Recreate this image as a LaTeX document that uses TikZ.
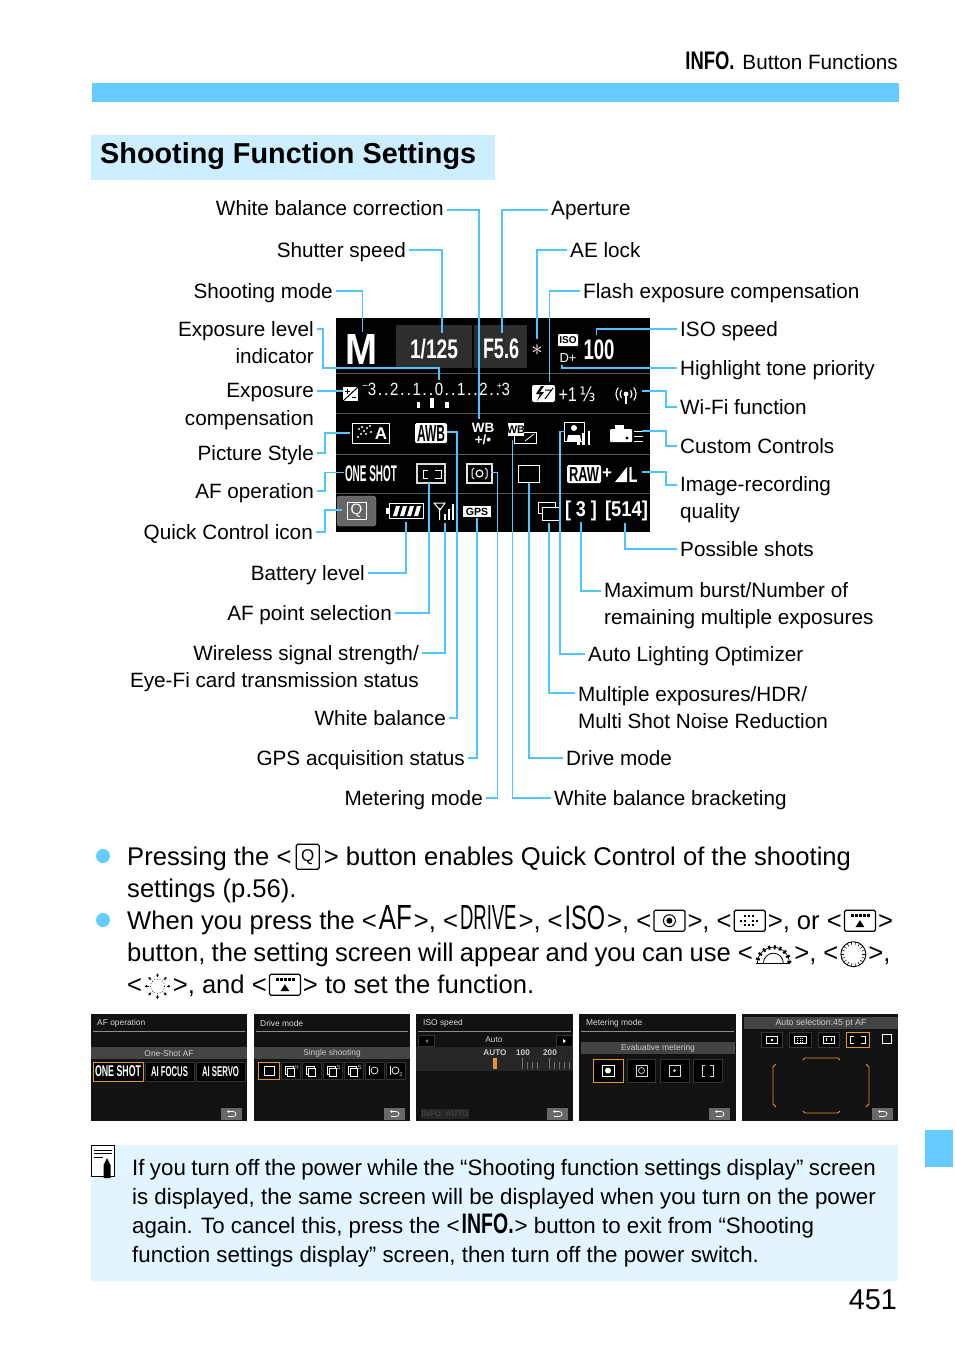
\documentclass[tikz,border=0pt]{standalone}
\usepackage{graphicx}
\usepackage{fontspec}
\setmainfont{Liberation Sans}
\newfontfamily\symfont{DejaVu Sans}
\usetikzlibrary{arrows.meta,positioning,calc}

\definecolor{barcyan}{HTML}{66CCFF}
\definecolor{leadcyan}{HTML}{4FC4FF}
\definecolor{titlefill}{HTML}{CCEEFF}
\definecolor{notefill}{HTML}{E1F4FF}
\definecolor{scrbg}{HTML}{121212}
\definecolor{scrband}{HTML}{444444}
\definecolor{scredge}{HTML}{333333}
\definecolor{scrorange}{HTML}{E2962C}

\newcommand{\lblfont}{\fontsize{20.7}{27.6}\selectfont}
\newcommand{\bodyfont}{\fontsize{25.6}{32}\selectfont}
\newcommand{\notefont}{\fontsize{22.3}{29}\selectfont}
\newcommand{\lcdfit}[3]{\resizebox*{#1}{#2}{#3}}
\newcommand{\angled}[1]{<\hspace{2pt}#1\hspace{2pt}>}
\newcommand{\sdig}[1]{\makebox[10pt]{\scalebox{.85}[1]{#1}}}
\newcommand{\sdot}{\makebox[12.3pt]{.\hspace{1.5pt}.}}

% keys and dials that stand in the running text
\newcommand{\keyQ}{\tikz[x=1pt,y=1pt,baseline=0pt]{\draw[line width=1.2pt,rounded corners=1.5pt] (0,-4) rectangle (23,21); \node[anchor=center,inner sep=0pt] (keyQtxt) at (11.5,8.5) {\fontsize{17}{17}\selectfont Q};}}
\newcommand{\keyMeter}{\tikz[x=1pt,y=1pt,baseline=0pt]{\draw[line width=1.2pt,rounded corners=1.5pt] (0,-2) rectangle (31,19); \draw[line width=1pt] (15.5,8.5) circle[radius=6pt]; \fill (15.5,8.5) circle[radius=3pt];}}
\newcommand{\keyPoint}{\tikz[x=1pt,y=1pt,baseline=0pt]{\draw[line width=1.2pt,rounded corners=1.5pt] (0,-2) rectangle (31,19); \foreach \px/\py in {11/13,15/13,19/13,7/8.5,11/8.5,19/8.5,23/8.5,11/4,15/4,19/4}{\fill (\px-1.2,\py-1.2) rectangle (\px+1.2,\py+1.2);}}}
\newcommand{\keyMulti}{\tikz[x=1pt,y=1pt,baseline=0pt]{\draw[line width=1.2pt,rounded corners=1.5pt] (0,-2) rectangle (31,19); \foreach \px in {8,12,16,20,24}{\fill (\px-1.2,12) rectangle (\px+1.2,15);} \fill (11,2) -- (20,2) -- (15.5,9) -- cycle;}}
\newcommand{\dialMain}{\tikz[x=1pt,y=1pt,baseline=0pt]{\draw[line width=.8pt] (3,-2) -- (37,-2); \draw[line width=.8pt] (10,-2) arc (180:0:10pt); \foreach \a in {5,25,...,175}{\draw[line width=2pt] (20,-2)++(\a:14pt) -- ++(\a:4pt);} \draw[line width=.7pt] (4,-2) arc (180:0:16pt);}}
\newcommand{\dialQuick}{\tikz[x=1pt,y=1pt,baseline=0pt]{\draw[line width=.9pt] (13,7) circle[radius=12.5pt]; \foreach \a in {0,20,...,340}{\draw[line width=.5pt] (13,7)++(\a:9pt) -- ++(\a:3.5pt);}}}
\newcommand{\dialCross}{\tikz[x=1pt,y=1pt,baseline=0pt]{\draw[line width=.7pt,dotted] (12,7) circle[radius=7pt]; \foreach \a in {0,45,...,315}{\draw[line width=.7pt,-{Latex[length=2.5pt,width=3pt]}] (12,7)++(\a:9pt) -- ++(\a:4pt);}}}

\tikzset{
  backbtn/.pic={
    \fill[scrband!80!white] (0,0) rectangle (21,12);
    \draw[white,line width=.7pt,-{Latex[length=2pt,width=3pt]}] (7,8.5) -- (12,8.5) .. controls (16,8.5) and (16,3.5) .. (12,3.5) -- (6,3.5);
  }
}

\begin{document}
\begin{tikzpicture}[
    x=1pt, y=-1pt,
    lblL/.style={anchor=east, font=\lblfont, inner xsep=3pt, inner ysep=0pt, text height=17pt, text depth=3pt},
    lblR/.style={anchor=west, font=\lblfont, inner xsep=3pt, inner ysep=0pt, text height=17pt, text depth=3pt},
    lblLm/.style={anchor=north east, font=\lblfont, align=right, inner xsep=3pt, inner ysep=0pt},
    lblRm/.style={anchor=north west, font=\lblfont, align=left, inner xsep=3pt, inner ysep=0pt},
    leader/.style={draw=leadcyan, line width=1.5pt},
    lcdtxt/.style={text=white, inner sep=0pt},
    lcdline/.style={draw=white, line width=1pt},
    sepline/.style={draw=black!65, line width=.8pt},
    scrtitle/.style={anchor=west, inner sep=0pt, text=black!15, font=\fontsize{8.4}{9}\selectfont},
    scrtxt/.style={inner sep=0pt, text=black!20, font=\fontsize{8.4}{9}\selectfont},
    scrbox/.style={draw=scredge, line width=.8pt, fill=black},
    scrpick/.style={draw=scrorange, line width=1pt, fill=black},
    bandbar/.style={fill=scrband}
]
\useasboundingbox (0,0) rectangle (954,1345);
\fill[white] (0,0) rectangle (954,1345);

% page furniture
\node[anchor=base east, inner sep=0pt, font=\lblfont] (pageHead) at (898,69) {\lcdfit{49pt}{18pt}{\bfseries INFO.}\hspace{8pt}Button Functions};
\fill[barcyan] (92,83) rectangle (899,102);
\fill[barcyan] (925,1130) rectangle (953,1167);
\fill[titlefill] (91,135) rectangle (495,180);
\node[anchor=base west, inner sep=0pt, font=\fontsize{28.8}{30}\selectfont\bfseries] (pageTitle) at (100,163) {Shooting Function Settings};
\node[anchor=base east, inner sep=0pt, font=\fontsize{28.8}{30}\selectfont] (pageNum) at (897,1309) {451};

% lcd panel
\fill[black] (336,318) rectangle (650,532);
\fill[black!82] (396,325) rectangle (472,368);
\fill[black!82] (474,325) rectangle (527,368);
\foreach \sy in {373,413,454,493}{\draw[sepline] (336,\sy) -- (650,\sy);}

% row 1
\node[lcdtxt] (lcdM) at (362,349) {\lcdfit{32pt}{30pt}{\bfseries M}};
\node[lcdtxt] (lcdTv) at (434,349) {\lcdfit{48pt}{20pt}{\bfseries 1/125}};
\node[lcdtxt] (lcdAv) at (501,349) {\lcdfit{36pt}{20pt}{\bfseries F5.6}};
\node[lcdtxt] (lcdAe) at (537,350) {\scalebox{2.3}{$\ast$}};
\node[fill=white, rounded corners=1pt, inner sep=0pt, minimum width=20pt, minimum height=12pt, font=\fontsize{10}{10}\selectfont\bfseries] (lcdIsoTag) at (568,340) {ISO};
\node[lcdtxt, font=\fontsize{13}{13}\selectfont] (lcdDplus) at (568,358) {D+};
\node[lcdtxt] (lcdIso) at (599,350) {\lcdfit{31pt}{20pt}{\bfseries 100}};

% row 2
\fill[white] (343,387) rectangle (358,401);
\draw[black, line width=1pt] (358,387) -- (343,401);
\draw[black, line width=1pt] (345,391) -- (350,391) (347.5,388.5) -- (347.5,393.5) (352,397) -- (356,397);
\node[lcdtxt, font=\fontsize{17.7}{18}\selectfont] (lcdScale) at (439,389) {\sdig{\llap{\raisebox{5.5pt}{\fontsize{11}{11}\selectfont −}}3}\sdot\sdig{2}\sdot\sdig{1}\sdot\sdig{0}\sdot\sdig{1}\sdot\sdig{2}\sdot\sdig{\llap{\raisebox{6pt}{\fontsize{10}{10}\selectfont +}}3}};
\fill[white] (416.5,402) rectangle (420,408);
\fill[white] (430,398) rectangle (433.5,408);
\fill[white] (445,402) rectangle (448.5,408);
\fill[white, rounded corners=2pt] (532,385) rectangle (555,402);
\fill[black] (541,386) -- (536,394) -- (540,394) -- (537,401) -- (544,392) -- (540,392) -- (544,386) -- cycle;
\draw[black, line width=1pt] (553,388) -- (545,399) (545,390) -- (551,390);
\node[lcdtxt] (lcdFlash) at (577,394) {\lcdfit{37pt}{15pt}{+1\,{\symfont ⅓}}};
\fill[white] (626,394) circle[radius=2.4pt];
\draw[white, line width=1.2pt] (626,394) -- (626,404);
\foreach \rr in {6,10}{
  \draw[white, line width=1.1pt] (626,394)++(140:\rr pt) arc (140:220:\rr pt);
  \draw[white, line width=1.1pt] (626,394)++(40:\rr pt) arc (40:-40:\rr pt);
}

% row 3
\draw[lcdline] (352,423) rectangle (389,443);
\node[lcdtxt, font=\fontsize{17}{17}\selectfont\bfseries] (lcdStyleA) at (381,433.5) {A};
\foreach \dx/\dy in {358/437,361/434,364/431,367/428,370/426,362/427,359/429,366/434,371/432}{\fill[white] (\dx,\dy) circle[radius=1.1pt];}
\node[fill=white, rounded corners=1.5pt, inner sep=0pt, minimum width=32pt, minimum height=20pt] (lcdAwb) at (431,433) {\lcdfit{28pt}{16pt}{\bfseries AWB}};
\node[lcdtxt, font=\fontsize{13.5}{14}\selectfont\bfseries] (lcdWbCorr) at (483,428) {WB};
\node[lcdtxt, font=\fontsize{13.5}{14}\selectfont\bfseries] (lcdWbPm) at (483,440) {+/\textbullet};
\draw[lcdline] (514,432) rectangle (536,443);
\draw[white, line width=.8pt] (525,441) -- (534,434);
\fill[white] (508,423) rectangle (524,436);
\node[inner sep=0pt, font=\fontsize{11}{11}\selectfont\bfseries] (lcdWbBkt) at (516,429.5) {WB};
\draw[lcdline] (564,422) rectangle (584,441);
\fill[white] (574,428) circle[radius=3pt];
\fill[white] (567,441) -- (568,435) -- (580,435) -- (581,441) -- cycle;
\fill[white] (577,445) rectangle (579.5,435);
\fill[white] (582,445) rectangle (584.5,433);
\fill[white] (587.5,445) rectangle (590,431);
\fill[white, rounded corners=1pt] (610,429) rectangle (632,442);
\fill[white] (615,425) rectangle (624,429);
\fill[black] (627,438) circle[radius=1.6pt];
\foreach \ly in {431,436,441}{\draw[white, line width=.9pt] (634,\ly) -- (643,\ly);}

% row 4
\node[lcdtxt] (lcdShot) at (371,474) {\lcdfit{52pt}{16pt}{\bfseries ONE SHOT}};
\draw[draw=black!15, line width=1.2pt] (417,464) rectangle (445,483);
\draw[white, line width=1pt] (428,470) -- (423,470) -- (423,478) -- (428,478) (435,470) -- (441,470) -- (441,478) -- (435,478);
\draw[draw=black!10, line width=1.2pt] (467,464) rectangle (492,483);
\draw[white, line width=1.2pt] (479.5,473.5) circle[radius=3.4pt];
\draw[white, line width=1pt] (474,468) -- (472,470) -- (472,477) -- (474,479) (485,468) -- (487,470) -- (487,477) -- (485,479);
\draw[lcdline] (518,465) rectangle (539,482);
\node[fill=white, rounded corners=1.5pt, inner sep=0pt, minimum width=34pt, minimum height=18pt] (lcdRaw) at (584,474) {\lcdfit{30pt}{14pt}{\bfseries RAW}};
\node[lcdtxt, font=\fontsize{17}{17}\selectfont\bfseries] (lcdPlus) at (607,474) {+};
\fill[white] (615,482) -- (627,467) -- (627,482) -- cycle;
\node[lcdtxt] (lcdQual) at (633,474.5) {\lcdfit{9pt}{15pt}{\bfseries L}};

% row 5
\fill[black!60, rounded corners=3pt, draw=black!40] (337,496) rectangle (376,526);
\draw[lcdline] (347,502) rectangle (366,519);
\node[lcdtxt, font=\fontsize{15}{15}\selectfont] (lcdQ) at (356.5,510.5) {Q};
\draw[lcdline] (389,503.5) rectangle (423,518.5);
\fill[white] (386,508) rectangle (389,514);
\foreach \bx in {393,400,407,414}{\fill[white] (\bx,516) -- (\bx+3,506) -- (\bx+7,506) -- (\bx+4,516) -- cycle;}
\draw[white, line width=1pt] (434,503) -- (445,503) -- (440,510) -- cycle (439.5,508) -- (439.5,520);
\fill[white] (444,520) rectangle (446,514);
\fill[white] (448,520) rectangle (450,509);
\fill[white] (452,520) rectangle (454,504);
\node[fill=white, inner sep=0pt, minimum width=28pt, minimum height=11pt, font=\fontsize{10.5}{11}\selectfont\bfseries] (lcdGps) at (477,511.5) {GPS};
\draw[lcdline] (538,502.5) rectangle (555,513);
\draw[lcdline, fill=black] (542,507.5) rectangle (559,520);
\node[lcdtxt] (lcdBurst) at (581,511) {\lcdfit{32pt}{20pt}{\bfseries [ 3 ]}};
\node[lcdtxt] (lcdShots) at (626.5,511) {\lcdfit{43pt}{20pt}{\bfseries [514]}};

% labels, left side
\node[lblL, text height=15pt, text depth=5pt] (lblWbc) at (447,210) {White balance correction};
\node[lblL] (lblTv) at (409,250) {Shutter speed};
\node[lblL] (lblMode) at (336,291) {Shooting mode};
\node[lblLm] (lblExpo) at (317,321) {Exposure level\\indicator};
\node[lblLm] (lblComp) at (317,383) {Exposure\\compensation};
\node[lblL] (lblStyle) at (317,453) {Picture Style};
\node[lblL] (lblAf) at (317,491) {AF operation};
\node[lblL] (lblQc) at (316,532) {Quick Control icon};
\node[lblL] (lblBatt) at (368,573) {Battery level};
\node[lblL] (lblPoint) at (395,613) {AF point selection};
\node[lblLm] (lblSignal) at (422,645) {Wireless signal strength/\\Eye-Fi card transmission status};
\node[lblL] (lblWb) at (449,718) {White balance};
\node[lblL] (lblGps) at (468,758) {GPS acquisition status};
\node[lblL] (lblMeter) at (486,798) {Metering mode};

% labels, right side
\node[lblR, text height=15pt, text depth=5pt] (lblAv) at (548,210) {Aperture};
\node[lblR] (lblAe) at (567,250) {AE lock};
\node[lblR] (lblFlash) at (580,291) {Flash exposure compensation};
\node[lblR] (lblIso) at (677,329) {ISO speed};
\node[lblR] (lblHigh) at (677,368) {Highlight tone priority};
\node[lblR] (lblWifi) at (677,407) {Wi-Fi function};
\node[lblR] (lblCustom) at (677,446) {Custom Controls};
\node[lblRm] (lblQual) at (677,476) {Image-recording\\quality};
\node[lblR] (lblShots) at (677,549) {Possible shots};
\node[lblRm] (lblBurst) at (601,582) {Maximum burst/Number of\\remaining multiple exposures};
\node[lblR] (lblAlo) at (585,654) {Auto Lighting Optimizer};
\node[lblRm] (lblMulti) at (575,686) {Multiple exposures/HDR/\\Multi Shot Noise Reduction};
\node[lblR] (lblDrive) at (563,758) {Drive mode};
\node[lblR] (lblBkt) at (551,798) {White balance bracketing};

% leader ends on the panel
\coordinate (endWbc) at (479,419);
\coordinate (endTv) at (442,333);
\coordinate (endMode) at (362.5,332);
\coordinate (bendExpo) at (323,368);
\coordinate (endExpo) at (439,380);
\coordinate (endComp) at (343,391);
\coordinate (endStyle) at (350,433);
\coordinate (endAf) at (344,472.5);
\coordinate (endQc) at (342,510);
\coordinate (endBatt) at (406,522);
\coordinate (endPoint) at (429,483);
\coordinate (endSignal) at (445,523);
\coordinate (bendWb) at (457,432);
\coordinate (endWb) at (447,432);
\coordinate (endGps) at (477,518);
\coordinate (bendMeter) at (497.5,472.5);
\coordinate (endMeter) at (491,472.5);
\coordinate (endAv) at (502,333);
\coordinate (endAe) at (537,339);
\coordinate (endFlash) at (549.5,382);
\coordinate (endIso) at (596.5,335);
\coordinate (endHigh) at (562,365);
\coordinate (endWifi) at (642,391);
\coordinate (endCustom) at (642,431);
\coordinate (endQual) at (642,472);
\coordinate (endShots) at (625,523);
\coordinate (endBurst) at (581,522);
\coordinate (bendAlo) at (560,431.5);
\coordinate (endAlo) at (565,431.5);
\coordinate (endMulti) at (549,523);
\coordinate (endDrive) at (529,483);
\coordinate (endBkt) at (512.5,440);

\draw[leader] (lblWbc.east) -| (endWbc);
\draw[leader] (lblTv.east) -| (endTv);
\draw[leader] (lblMode.east) -| (endMode);
\draw[leader] ([yshift=-8pt]lblExpo.north east) -| (bendExpo) -| (endExpo);
\draw[leader] ([yshift=-8pt]lblComp.north east) -- (endComp);
\draw[leader] (lblStyle.east) -- ++(8,0) |- (endStyle);
\draw[leader] (lblAf.east) -- ++(8,0) |- (endAf);
\draw[leader] (lblQc.east) -- ++(9,0) |- (endQc);
\draw[leader] (lblBatt.east) -| (endBatt);
\draw[leader] (lblPoint.east) -| (endPoint);
\draw[leader] ([yshift=-8pt]lblSignal.north east) -| (endSignal);
\draw[leader] (lblWb.east) -| (bendWb) -- (endWb);
\draw[leader] (lblGps.east) -| (endGps);
\draw[leader] (lblMeter.east) -| (bendMeter) -- (endMeter);
\draw[leader] (lblAv.west) -| (endAv);
\draw[leader] (lblAe.west) -| (endAe);
\draw[leader] (lblFlash.west) -| (endFlash);
\draw[leader] (lblIso.west) -| (endIso);
\draw[leader] (lblHigh.west) -| (endHigh);
\draw[leader] (lblWifi.west) -- ++(-11,0) |- (endWifi);
\draw[leader] (lblCustom.west) -- ++(-11,0) |- (endCustom);
\draw[leader] ([yshift=-9pt]lblQual.north west) -- ++(-11,0) |- (endQual);
\draw[leader] (lblShots.west) -| (endShots);
\draw[leader] ([yshift=-9pt]lblBurst.north west) -| (endBurst);
\draw[leader] (lblAlo.west) -| (bendAlo) -- (endAlo);
\draw[leader] ([yshift=-7pt]lblMulti.north west) -| (endMulti);
\draw[leader] (lblDrive.west) -| (endDrive);
\draw[leader] (lblBkt.west) -| (endBkt);

% bullets
\fill[barcyan] (103,856) circle[radius=7pt];
\fill[barcyan] (103,920) circle[radius=7pt];
\node[anchor=north west, inner sep=0pt, align=left, font=\bodyfont] (txtQuick) at (127,843.5) {Pressing the <\hspace{4pt}\keyQ\hspace{4pt}> button enables Quick Control of the shooting\\settings (p.56).};
\node[anchor=north west, inner sep=0pt, align=left, font=\bodyfont] (txtPress) at (127,905) {When you press the \angled{\lcdfit{33pt}{24pt}{AF}}, \angled{\lcdfit{56.5pt}{24pt}{DRIVE}}, \angled{\lcdfit{40.5pt}{24pt}{ISO}}, \angled{\keyMeter}, \angled{\keyPoint}, or \angled{\keyMulti}\\{\spaceskip=6.2pt button, the setting screen will appear and you can use} \angled{\dialMain}, \angled{\dialQuick},\\\angled{\dialCross}, and \angled{\keyMulti} to set the function.};

% function screens
\foreach \scrx/\scry in {91/247,254/410,416/573,579/736,742/898}{\fill[scrbg] (\scrx,1014) rectangle (\scry,1121);}
\foreach \lnx/\lny in {91/247,254/410,416/573,579/736}{\draw[black!45, line width=.5pt] (\lnx+2,1031) -- (\lny-2,1031);}

% screen 1
\node[scrtitle] (scrOneTitle) at (97,1023.5) {AF operation};
\fill[bandbar] (91,1047) rectangle (247,1059);
\node[scrtxt] (scrOneBand) at (169,1053) {One-Shot AF};
\node[scrpick, inner sep=0pt, minimum width=50pt, minimum height=19pt, text=white] (scrOneA) at (118,1071.5) {\lcdfit{46pt}{11pt}{\bfseries ONE SHOT}};
\node[scrbox, inner sep=0pt, minimum width=49pt, minimum height=19pt, text=white] (scrOneB) at (169.5,1071.5) {\lcdfit{37pt}{10pt}{\bfseries AI FOCUS}};
\node[scrbox, inner sep=0pt, minimum width=49pt, minimum height=19pt, text=white] (scrOneC) at (220.5,1071.5) {\lcdfit{37pt}{10pt}{\bfseries AI SERVO}};
\pic at (221,1108) {backbtn};

% screen 2
\node[scrtitle] (scrTwoTitle) at (260,1023.5) {Drive mode};
\fill[bandbar] (254,1047) rectangle (410,1059);
\node[scrtxt] (scrTwoBand) at (332,1053) {Single shooting};
\draw[scrpick] (258,1062) rectangle (279,1079);
\draw[white, line width=.8pt] (264,1066) rectangle (274,1075);
\foreach \bxa/\bsup in {281/H,302/,323/S,344/S}{
  \draw[scrbox] (\bxa,1062) rectangle (\bxa+19,1079);
  \draw[white, line width=.7pt, fill=black] (\bxa+4,1066) rectangle (\bxa+12,1074);
  \draw[white, line width=.7pt, fill=black] (\bxa+6,1068) rectangle (\bxa+13,1076);
  \node[scrtxt, font=\fontsize{6}{6}\selectfont] (scrDrv\bxa) at (\bxa+15.5,1067) {\bsup};
}
\foreach \bxa/\bsup in {365/,386/2}{
  \draw[scrbox] (\bxa,1062) rectangle (\bxa+19,1079);
  \draw[white, line width=.7pt] (\bxa+9.5,1070.5) circle[radius=3.5pt];
  \draw[white, line width=.8pt] (\bxa+4,1066) -- (\bxa+4,1075);
  \node[scrtxt, font=\fontsize{6}{6}\selectfont] (scrDrv\bxa) at (\bxa+15,1074) {\bsup};
}
\pic at (384,1108) {backbtn};

% screen 3
\node[scrtitle] (scrThrTitle) at (423,1023.5) {ISO speed};
\node[scrtxt] (scrThrAuto) at (494,1040) {Auto};
\fill[black!85] (416,1047) rectangle (573,1071);
\draw[scrbox] (418,1035) rectangle (434,1046);
\draw[scrbox] (556,1035) rectangle (572,1046);
\fill[black!60] (428,1039) -- (428,1043) -- (425,1041) -- cycle;
\fill[white] (563,1039) -- (563,1043) -- (566,1041) -- cycle;
\node[scrtxt, font=\fontsize{8.2}{9}\selectfont\bfseries] (scrThrVa) at (495,1053) {AUTO};
\node[scrtxt, font=\fontsize{8.2}{9}\selectfont\bfseries] (scrThrVb) at (523,1053) {100};
\node[scrtxt, font=\fontsize{8.2}{9}\selectfont\bfseries] (scrThrVc) at (550,1053) {200};
\fill[scrorange] (493,1058) rectangle (497,1069);
\foreach \tx in {522,527,532,537,549,554,559,564,569}{\draw[black!55, line width=.7pt] (\tx,1062) -- (\tx,1069);}
\foreach \tx in {522,549}{\draw[black!55, line width=.8pt] (\tx,1058) -- (\tx,1069);}
\node[scrtxt, text=black!75, font=\fontsize{8.2}{9}\selectfont\bfseries, fill=black!85, minimum width=46pt, minimum height=10pt] (scrThrInfo) at (445,1114) {INFO. AUTO};
\pic at (547,1108) {backbtn};

% screen 4
\node[scrtitle] (scrFouTitle) at (586,1023.5) {Metering mode};
\fill[bandbar] (581,1042) rectangle (735,1054);
\node[scrtxt] (scrFouBand) at (658,1048) {Evaluative metering};
\draw[scrpick] (593,1059) rectangle (623,1082);
\draw[scrbox] (627,1059) rectangle (655,1082);
\draw[scrbox] (660,1059) rectangle (689,1082);
\draw[scrbox] (693,1059) rectangle (722,1082);
\draw[white, line width=.7pt] (602,1065) rectangle (614,1076);
\fill[white] (608,1070.5) circle[radius=3pt];
\draw[black!15, line width=.7pt] (636,1065) rectangle (647,1076);
\draw[black!15, line width=.7pt] (641.5,1070.5) circle[radius=3pt];
\draw[black!15, line width=.7pt] (669,1065) rectangle (680,1076);
\fill[black!15] (674.5,1070.5) circle[radius=1.5pt];
\draw[black!15, line width=.7pt] (705,1065) -- (702,1065) -- (702,1076) -- (705,1076) (710,1065) -- (713,1065) -- (713,1076) -- (710,1076);
\pic at (709,1108) {backbtn};

% screen 5
\fill[bandbar] (744,1017) rectangle (898,1029);
\node[scrtxt, font=\fontsize{8.8}{9}\selectfont] (scrFivBand) at (821,1023.5) {Auto selection:45 pt AF};
\draw[scrbox] (761,1032) rectangle (782,1047);
\draw[scrbox] (789,1032) rectangle (811,1047);
\draw[scrbox] (818,1032) rectangle (839,1047);
\draw[scrpick] (846,1032) rectangle (869,1047);
\draw[white, line width=.7pt] (766,1036) rectangle (777,1043);
\fill[white] (770.5,1038.5) rectangle (772.5,1040.5);
\draw[white, line width=.7pt] (794,1036) rectangle (806,1043);
\foreach \dty in {1038,1040,1042}{\draw[white, line width=.6pt, dotted] (797,\dty) -- (803,\dty);}
\draw[white, line width=.7pt] (823,1036) rectangle (834,1043);
\draw[white, line width=.7pt] (826,1038) -- (826,1041) (831,1038) -- (831,1041);
\draw[white, line width=.8pt] (854,1036) -- (850,1036) -- (850,1043) -- (854,1043) (861,1036) -- (865,1036) -- (865,1043) -- (861,1043);
\draw[white, line width=.6pt] (882,1034) rectangle (891,1043);
\draw[scrorange, line width=.9pt] (803,1060) -- (805,1058) -- (838,1058) -- (840,1060);
\draw[scrorange, line width=.9pt] (803,1111) -- (805,1113) -- (838,1113) -- (840,1111);
\draw[scrorange, line width=.9pt] (776,1064) -- (773,1067) -- (773,1104) -- (776,1107);
\draw[scrorange, line width=.9pt] (866,1064) -- (869,1067) -- (869,1104) -- (866,1107);
\pic at (872,1108) {backbtn};

% memo box
\fill[notefill] (91,1145) rectangle (898,1281);
\draw[black, line width=1.2pt, fill=white] (91.5,1145.5) rectangle (114.5,1176.5);
\draw[black, line width=1pt] (94,1150) -- (112,1150) (94,1153.5) -- (112,1153.5) (94,1157) -- (103,1157);
\fill[black] (107,1158) -- (110.5,1165) -- (110.5,1178) -- (103.5,1178) -- (103.5,1165) -- cycle;
\node[anchor=north west, inner sep=0pt, align=left, font=\notefont] (txtMemo) at (132,1159) {{\spaceskip=5.4pt If you turn off the power while the “Shooting function settings display” screen}\\is displayed, the same screen will be displayed when you turn on the power\\again. To cancel this, press the <\hspace{2pt}\lcdfit{52pt}{20pt}{\bfseries INFO.}\hspace{1pt}> button to exit from “Shooting\\function settings display” screen, then turn off the power switch.};
\end{tikzpicture}
\end{document}
